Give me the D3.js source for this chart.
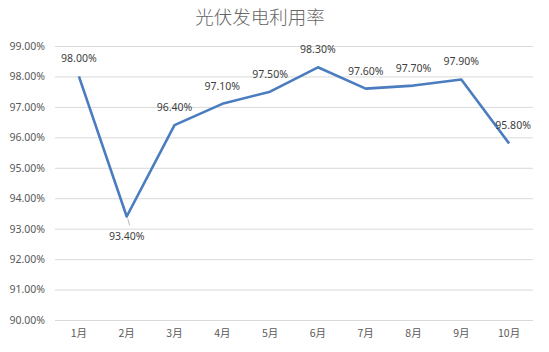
<!DOCTYPE html>
<html lang="zh">
<head>
<meta charset="UTF-8">
<title>光伏发电利用率</title>
<script src="https://d3js.org/d3.v7.min.js"></script>
<style>
  body { margin: 0; background: #fff; }
  text { font-family: "Noto Sans CJK SC", "Noto Sans", sans-serif; }
</style>
</head>
<body>
<div id="chart"></div>
<script>
// 数据
const months = ["1月", "2月", "3月", "4月", "5月", "6月", "7月", "8月", "9月", "10月"];
const rates = [98.0, 93.4, 96.4, 97.1, 97.5, 98.3, 97.6, 97.7, 97.9, 95.8];
const yTicks = [90, 91, 92, 93, 94, 95, 96, 97, 98, 99];
// 标签位置: 上方 / 下方
const labelPos = ["up", "down", "up", "up", "up", "up", "up", "up", "up", "up"];

const width = 549, height = 352;
const margin = { top: 46, right: 16, bottom: 32, left: 55 };

const svg = d3.select("#chart").append("svg")
  .attr("width", width).attr("height", height);

const x = d3.scaleBand()
  .domain(months)
  .range([margin.left, width - margin.right]);

const y = d3.scaleLinear()
  .domain([90, 99])
  .range([height - margin.bottom, margin.top]);

// 标题
svg.append("text")
  .attr("x", 260).attr("y", 24)
  .attr("text-anchor", "middle")
  .attr("font-size", 18.5).attr("font-weight", 300).attr("fill", "#666")
  .text("光伏发电利用率");

// 网格线 + Y 轴
const yAxis = svg.append("g")
  .attr("transform", `translate(${margin.left},0)`)
  .call(d3.axisLeft(y).tickValues(yTicks)
    .tickSize(-(width - margin.left - margin.right))
    .tickFormat(d => d.toFixed(2) + "%"));
yAxis.select(".domain").remove();
yAxis.selectAll("line").attr("stroke", "#d9d9d9");
yAxis.selectAll("text")
  .attr("x", -10).attr("fill", "#595959").attr("font-size", 10.5)
  .style("font-family", "'Noto Sans', sans-serif");

// X 轴
const xAxis = svg.append("g")
  .attr("transform", `translate(0,${height - margin.bottom})`)
  .call(d3.axisBottom(x).tickSize(0).tickPadding(10));
xAxis.select(".domain").remove();
xAxis.selectAll("text").attr("fill", "#595959").attr("font-size", 10.5);

const cx = d => x(d) + x.bandwidth() / 2;

// 折线
const line = d3.line()
  .x((d, i) => cx(months[i]))
  .y(d => y(d));

svg.append("path")
  .datum(rates)
  .attr("fill", "none")
  .attr("stroke", "#4a7cc0")
  .attr("stroke-width", 2.6)
  .attr("stroke-linejoin", "round")
  .attr("d", line);

// 引导线 (2月)
rates.forEach((v, i) => {
  if (labelPos[i] === "down") {
    svg.append("line")
      .attr("x1", cx(months[i]) + 1).attr("y1", y(v) + 2)
      .attr("x2", cx(months[i]) + 3).attr("y2", y(v) + 9)
      .attr("stroke", "#a6a6a6").attr("stroke-width", 0.8);
  }
});

// 数据标签
svg.append("g").selectAll("text")
  .data(rates)
  .join("text")
  .attr("x", (d, i) => cx(months[i]) + (i === 9 ? 4 : 0))
  .attr("y", (d, i) => labelPos[i] === "down" ? y(d) + 24 : y(d) - 14)
  .attr("text-anchor", "middle")
  .attr("font-size", 10.5)
  .attr("fill", "#404040")
  .style("font-family", "'Noto Sans', sans-serif")
  .text(d => d.toFixed(2) + "%");
</script>
</body>
</html>
